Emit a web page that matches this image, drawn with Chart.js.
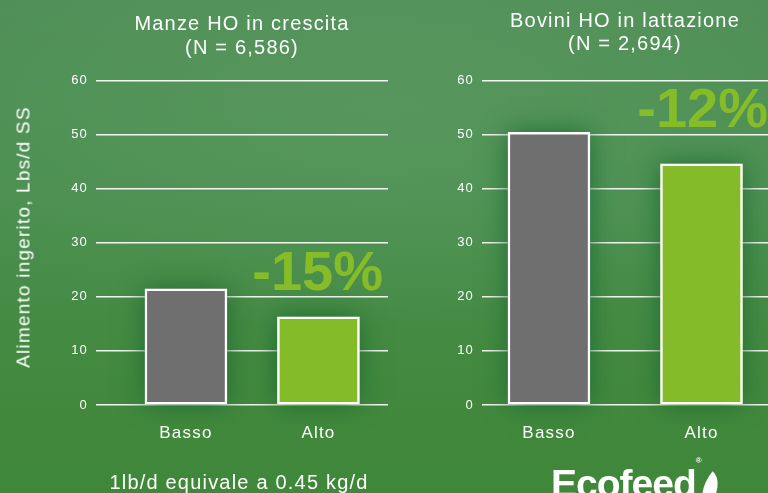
<!DOCTYPE html>
<html><head><meta charset="utf-8">
<script src="https://cdn.jsdelivr.net/npm/chart.js@4"></script>
<style>
html,body{margin:0;padding:0;width:768px;height:493px;overflow:hidden;}
body{position:relative;font-family:"Liberation Sans",Arial,Helvetica,sans-serif;
background:
 radial-gradient(ellipse 70% 45% at 50% 22%, rgba(100,160,105,0.45) 0%, rgba(100,160,105,0) 100%),
 linear-gradient(180deg,#4f8f57 0%,#4b8f50 40%,#43893f 75%,#3f8739 100%);}
#c1{position:absolute;left:0;top:0;}
#c2{position:absolute;left:400px;top:0;}
.ytitle{position:absolute;left:23px;top:237px;transform:translate(-50%,-50%) rotate(-90deg);color:#fff;font-size:19px;line-height:19px;letter-spacing:1.2px;white-space:nowrap;}
.note{position:absolute;left:0;width:478px;text-align:center;top:472px;line-height:20px;color:#fff;font-size:20px;letter-spacing:1.2px;white-space:nowrap;}
.logo{position:absolute;left:551px;top:462px;color:#fff;font-size:39px;font-weight:bold;letter-spacing:-1px;white-space:nowrap;}
.logo sup{font-size:8px;position:relative;top:-20px;letter-spacing:0;}
.leaf{position:absolute;left:700px;top:474px;width:20px;height:32px;background:#fff;border-radius:0 100% 0 100%;transform:rotate(40deg);}
</style></head>
<body>
<canvas id="c1" width="400" height="493"></canvas>
<canvas id="c2" width="368" height="493"></canvas>
<div class="ytitle" id="ytitle"></div>
<div class="note">1lb/d equivale a 0.45 kg/d</div>
<div class="logo">Ecofeed<sup>®</sup></div>
<div class="leaf"></div>
<script>
const categories = ['Basso', 'Alto'];
const heiferValues = [21.5, 16.3];
const lactatingValues = [50.4, 44.6];
const yTicks = [0, 10, 20, 30, 40, 50, 60];
const heiferTitle = ['Manze HO in crescita', '(N = 6,586)'];
const lactatingTitle = ['Bovini HO in lattazione', '(N = 2,694)'];
const diffLabels = ['-15%', '-12%'];
const yAxisTitle = 'Alimento ingerito, Lbs/d SS';

document.getElementById('ytitle').textContent = yAxisTitle;

const FONT = '"Liberation Sans", Arial, Helvetica, sans-serif';
const barColors = ['#6f6f6f', '#84bb28'];

const spacingPlugin = {
  id: 'tracking',
  beforeUpdate(chart) { chart.ctx.letterSpacing = '1.2px'; },
  beforeDraw(chart) { chart.ctx.letterSpacing = '1.2px'; }
};

const glowPlugin = {
  id: 'glowAndLabel',
  beforeDatasetsDraw(chart) {
    const ctx = chart.ctx;
    const meta = chart.getDatasetMeta(0);
    ctx.save();
    ctx.shadowColor = 'rgba(28,105,48,0.95)';
    ctx.shadowBlur = 24;
    meta.data.forEach((bar, i) => {
      const p = bar.getProps(['x', 'y', 'base', 'width'], true);
      ctx.fillStyle = barColors[i];
      ctx.fillRect(p.x - p.width / 2, p.y, p.width, p.base - p.y);
    });
    ctx.restore();
  },
  afterDatasetsDraw(chart, args, opts) {
    const ctx = chart.ctx;
    const xs = chart.scales.x, ys = chart.scales.y;
    ctx.save();
    ctx.letterSpacing = '0px';
    ctx.fillStyle = '#85bc28';
    ctx.font = 'bold 56px ' + FONT;
    ctx.textAlign = 'right';
    ctx.textBaseline = 'alphabetic';
    ctx.fillText(opts.text, xs.getPixelForValue(opts.x), ys.getPixelForValue(opts.y));
    ctx.restore();
  }
};

function makeChart(id, values, title, label, cfg) {
  return new Chart(document.getElementById(id), {
    type: 'bar',
    data: {
      datasets: [{
        data: categories.map((c, i) => ({x: i, y: values[i]})),
        backgroundColor: barColors,
        borderColor: '#ffffff',
        borderWidth: 2.5,
        borderSkipped: false,
        barThickness: 82
      }]
    },
    options: {
      responsive: false,
      animation: false,
      devicePixelRatio: 1,
      layout: {padding: {left: 0, right: cfg.padRight, top: 0, bottom: 48}},
      plugins: {
        legend: {display: false},
        tooltip: {enabled: false},
        title: {
          display: true, text: title, color: '#ffffff', fullSize: false,
          font: {family: FONT, size: 20, weight: 'normal', lineHeight: 1.18},
          padding: {top: cfg.titleTop, bottom: cfg.titleBottom}
        },
        glowAndLabel: {text: label, x: cfg.labelX, y: cfg.labelY}
      },
      scales: {
        x: {
          type: 'linear', offset: false, min: cfg.xMin, max: cfg.xMax,
          grid: {display: false}, border: {display: false},
          ticks: {
            stepSize: 1, includeBounds: false, color: '#ffffff', padding: 10,
            font: {family: FONT, size: 17},
            callback: v => (Number.isInteger(v) && categories[v] !== undefined) ? categories[v] : ''
          },
          afterFit: s => { s.height = 40; }
        },
        y: {
          min: yTicks[0], max: yTicks[yTicks.length - 1],
          afterBuildTicks: s => { s.ticks = yTicks.map(v => ({value: v})); },
          grid: {color: 'rgba(255,255,255,0.92)', lineWidth: 1.5, drawTicks: false},
          border: {display: false},
          ticks: {color: '#ffffff', padding: 8, font: {family: FONT, size: 13}},
          afterFit: s => { s.width = cfg.yWidth; }
        }
      }
    },
    plugins: [spacingPlugin, glowPlugin]
  });
}

makeChart('c1', heiferValues, heiferTitle, diffLabels[0], {
  padRight: 12, titleTop: 12.7, titleBottom: 20.6,
  xMin: -0.679, xMax: 1.525, labelX: 1.487, labelY: 21.3,
  yWidth: 96
});
makeChart('c2', lactatingValues, lactatingTitle, diffLabels[1], {
  padRight: 0, titleTop: 9.2, titleBottom: 24.1,
  xMin: -0.439, xMax: 1.436, labelX: 1.436, labelY: 51.4,
  yWidth: 82
});
</script>
</body></html>
